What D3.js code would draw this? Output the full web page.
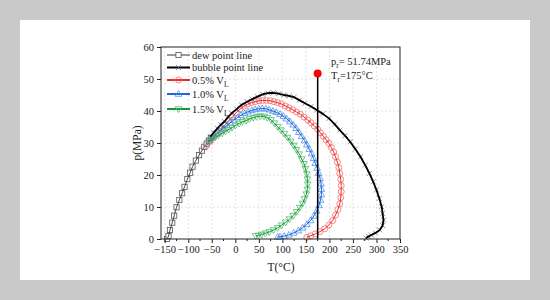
<!DOCTYPE html>
<html>
<head>
<meta charset="utf-8">
<script src="https://cdn.jsdelivr.net/npm/d3@7"></script>
<style>
  body { margin: 0; background: #c9c9c9; }
  svg { display: block; }
  text { font-family: "Liberation Serif", "Times New Roman", serif; fill: #222; }
</style>
</head>
<body>
<div id="chart"></div>
<script>
// dew point line (T in °C, p in MPa)
const dewT = [-145, -142, -139, -134, -130, -125, -119, -113, -108, -102, -96, -91, -84, -77, -71, -66, -61, -56, -52];
const dewP = [0, 0.9, 2.8, 5.1, 7.3, 9.9, 12.2, 14.3, 16.3, 18.7, 20.7, 22.6, 24.5, 26.2, 27.6, 28.8, 29.8, 30.8, 31.6];

// bubble point line
const bubbleT = [-53, -46, -38, -31, -23, -16, -8, 3, 13, 25, 36, 47, 58, 69, 81, 92, 103, 114, 125, 136, 148, 161, 173, 186, 199, 211, 222, 233, 244, 255, 266, 276, 285, 293, 300, 306, 311, 313, 315, 313, 307, 298, 289, 283, 278];
const bubbleP = [32, 33.3, 34.6, 35.7, 36.7, 38, 39.3, 40.6, 41.9, 42.9, 43.7, 44.5, 45.2, 45.6, 45.7, 45.4, 45, 44.7, 44.3, 43.4, 42.4, 41.4, 40.3, 39.1, 37.7, 35.9, 34, 32.3, 30.4, 28.1, 25.7, 23.1, 20.5, 17.9, 15.3, 12.7, 10.1, 8, 5.9, 4.2, 2.8, 1.9, 1.25, 0.8, 0.3];

// 0.5% VL
const v05T = [-61, -53, -45, -38, -30, -22, -14, -6, 2, 10, 18, 26, 34, 42, 50, 58, 66, 74, 82, 90, 98, 106, 114, 122, 130, 138, 146, 154, 161, 168, 175, 181, 187, 193, 199, 204, 209, 213, 217, 220, 222, 224, 225, 225, 224, 222, 218, 213, 207, 199, 190, 180, 170, 160, 152];
const v05P = [29.2, 30.5, 31.9, 33, 34.4, 35.6, 37, 38.2, 39.5, 40.6, 41.5, 42.1, 42.6, 42.9, 43.2, 43.3, 43.3, 43.2, 42.9, 42.6, 42.2, 41.6, 41, 40.4, 39.7, 39, 38.1, 37.2, 36.3, 35.3, 34.3, 33.2, 32.1, 31, 29.9, 28.6, 27.2, 25.7, 24, 22.3, 20.5, 18.6, 16.7, 14.8, 12.9, 11, 9.2, 7.5, 5.8, 4.4, 3.2, 2.3, 1.6, 1, 0.5];

// 1.0% VL
const v10T = [-55, -48, -40, -33, -26, -18, -11, -3, 5, 12, 20, 27, 35, 42, 50, 57, 65, 72, 80, 87, 95, 102, 109, 116, 123, 129, 135, 141, 147, 152, 157, 162, 166, 170, 174, 177, 180, 182, 183, 183, 181, 178, 173, 167, 160, 152, 143, 134, 124, 114, 104, 95, 90];
const v10P = [31, 31.9, 32.8, 33.7, 34.6, 35.5, 36.3, 37.2, 38, 38.7, 39.3, 39.8, 40.2, 40.5, 40.7, 40.8, 40.7, 40.4, 40, 39.6, 39, 38.4, 37.6, 36.7, 35.7, 34.6, 33.4, 32.1, 30.8, 29.5, 28.1, 26.7, 25.2, 23.7, 22.2, 20.6, 19, 17.3, 15.6, 13.9, 12.2, 10.5, 8.8, 7.2, 5.8, 4.6, 3.5, 2.6, 1.9, 1.3, 0.9, 0.7, 0.6];

// 1.5% VL
const v15T = [-57, -50, -43, -36, -28, -21, -14, -7, 0, 8, 15, 23, 30, 38, 45, 53, 61, 68, 76, 83, 90, 97, 104, 111, 118, 124, 130, 136, 141, 146, 149, 152, 153, 154, 153, 151, 147, 143, 137, 130, 123, 115, 107, 98, 90, 81, 72, 64, 56, 49, 43];
const v15P = [30.4, 31.1, 31.8, 32.4, 33, 33.6, 34.2, 34.8, 35.5, 36.1, 36.6, 37, 37.5, 37.9, 38.2, 38.4, 38.3, 37.9, 37.2, 36.2, 35.1, 34, 32.9, 31.7, 30.5, 29.2, 27.9, 26.5, 25, 23.5, 21.9, 20.3, 18.7, 17.1, 15.5, 14, 12.5, 11.1, 9.8, 8.5, 7.3, 6.2, 5.2, 4.3, 3.5, 2.8, 2.2, 1.8, 1.4, 1.1, 1];

// reservoir point
const resT = 175;
const resP = 51.74;

const xTicks = [-150, -100, -50, 0, 50, 100, 150, 200, 250, 300, 350];
const xMinor = [-125, -75, -25, 25, 75, 125, 175, 225, 275, 325];
const yTicks = [0, 10, 20, 30, 40, 50, 60];

const W = 550;
const H = 300;
const plot = { l: 161, r: 400, t: 47, b: 239 };

const scaleX = d3.scaleLinear().domain([-158, 350]).range([plot.l, plot.r]);
const scaleY = d3.scaleLinear().domain([0, 60]).range([plot.b, plot.t]);

const zip = (ts, ps) => ts.map((t, i) => ({ t, p: ps[i] }));

const series = [
  { key: 'dew', data: zip(dewT, dewP), color: '#333', width: 0.9, marker: 'square', mColor: '#555' },
  { key: 'v05', data: zip(v05T, v05P), color: '#ee2a2a', width: 1, marker: 'circle', mColor: '#f46a6a' },
  { key: 'v10', data: zip(v10T, v10P), color: '#1f64d8', width: 1, marker: 'triangle', mColor: '#4c92ee' },
  { key: 'v15', data: zip(v15T, v15P), color: '#18963a', width: 1, marker: 'triangleDown', mColor: '#4fbd6b' },
  { key: 'bubble', data: zip(bubbleT, bubbleP), color: '#000', width: 1.8, marker: 'cross', mColor: '#666' }
];

const legendItems = [
  { s: 'dew', label: 'dew point line' },
  { s: 'bubble', label: 'bubble point line' },
  { s: 'v05', label: '0.5% V', sub: 'L' },
  { s: 'v10', label: '1.0% V', sub: 'L' },
  { s: 'v15', label: '1.5% V', sub: 'L' }
];

function drawMarker(g, type, x, y, color) {
  if (type === 'circle') {
    g.append('circle').attr('cx', x).attr('cy', y).attr('r', 3)
      .attr('fill', 'none').attr('stroke', color).attr('stroke-width', 0.8);
  } else if (type === 'square') {
    g.append('rect').attr('x', x - 2.6).attr('y', y - 2.6).attr('width', 5.2).attr('height', 5.2)
      .attr('fill', '#fff').attr('stroke', color).attr('stroke-width', 0.8);
  } else if (type === 'triangle') {
    g.append('path').attr('d', `M${x},${y - 3.5}L${x + 3.3},${y + 2.3}L${x - 3.3},${y + 2.3}Z`)
      .attr('fill', 'none').attr('stroke', color).attr('stroke-width', 0.8);
  } else if (type === 'triangleDown') {
    g.append('path').attr('d', `M${x},${y + 3.5}L${x + 3.3},${y - 2.3}L${x - 3.3},${y - 2.3}Z`)
      .attr('fill', 'none').attr('stroke', color).attr('stroke-width', 0.8);
  } else if (type === 'cross') {
    g.append('path').attr('d', `M${x - 2.5},${y - 2.5}L${x + 2.5},${y + 2.5}M${x - 2.5},${y + 2.5}L${x + 2.5},${y - 2.5}`)
      .attr('stroke', color).attr('stroke-width', 0.7);
  }
}

const svg = d3.select('#chart').append('svg')
  .attr('width', W)
  .attr('height', H);

svg.append('rect').attr('width', W).attr('height', H).attr('fill', '#c9c9c9');
svg.append('rect').attr('x', 20).attr('y', 20).attr('width', 510).attr('height', 260).attr('fill', '#fff');

// grid
const grid = svg.append('g').attr('class', 'grid');
grid.selectAll('.gx')
  .data(xTicks.slice(0, -1))
  .enter().append('line')
  .attr('x1', d => scaleX(d)).attr('x2', d => scaleX(d))
  .attr('y1', plot.t).attr('y2', plot.b)
  .attr('stroke', '#e2e2e2').attr('stroke-dasharray', '2,2');
grid.selectAll('.gy')
  .data(yTicks.slice(1, -1))
  .enter().append('line')
  .attr('x1', plot.l).attr('x2', plot.r)
  .attr('y1', d => scaleY(d)).attr('y2', d => scaleY(d))
  .attr('stroke', '#e2e2e2').attr('stroke-dasharray', '2,2');

// curves
const line = d3.line().x(d => scaleX(d.t)).y(d => scaleY(d.p));
const curves = svg.append('g').attr('class', 'curves');

series.forEach(s => {
  const g = curves.append('g').attr('class', s.key);
  s.data.forEach(d => drawMarker(g, s.marker, scaleX(d.t), scaleY(d.p), s.mColor));
  g.append('path')
    .datum(s.data)
    .attr('d', line)
    .attr('fill', 'none')
    .attr('stroke', s.color)
    .attr('stroke-width', s.width)
    .attr('stroke-linejoin', 'round');
});

// reservoir condition
svg.append('line')
  .attr('x1', scaleX(resT)).attr('x2', scaleX(resT))
  .attr('y1', scaleY(resP)).attr('y2', scaleY(0))
  .attr('stroke', '#000').attr('stroke-width', 1.5);
svg.append('circle')
  .attr('cx', scaleX(resT)).attr('cy', scaleY(resP)).attr('r', 4)
  .attr('fill', '#ff0000');

// frame
svg.append('rect')
  .attr('x', plot.l).attr('y', plot.t)
  .attr('width', plot.r - plot.l).attr('height', plot.b - plot.t)
  .attr('fill', 'none').attr('stroke', '#222').attr('stroke-width', 1);

// axes
const xAxis = d3.axisBottom(scaleX).tickValues(xTicks).tickSize(4).tickPadding(3);
const yAxis = d3.axisLeft(scaleY).tickValues(yTicks).tickSize(4).tickPadding(3);

svg.append('g')
  .attr('class', 'axis axis--x')
  .attr('transform', `translate(0, ${plot.b})`)
  .call(xAxis);

svg.append('g')
  .attr('class', 'axis axis--y')
  .attr('transform', `translate(${plot.l}, 0)`)
  .call(yAxis);

svg.selectAll('.axis .domain').remove();
svg.selectAll('.axis line').attr('stroke', '#222');
svg.selectAll('.axis text')
  .style('font-family', '"Liberation Serif", serif')
  .style('font-size', '10.5px')
  .attr('fill', '#222');

// minor ticks on x
svg.append('g').selectAll('line')
  .data(xMinor)
  .enter().append('line')
  .attr('x1', d => scaleX(d)).attr('x2', d => scaleX(d))
  .attr('y1', plot.b).attr('y2', plot.b + 2)
  .attr('stroke', '#222');

// axis titles
svg.append('text')
  .attr('x', 281).attr('y', 271)
  .attr('text-anchor', 'middle')
  .style('font-size', '11.5px')
  .text('T(°C)');

svg.append('text')
  .attr('transform', `translate(141, ${(plot.t + plot.b) / 2}) rotate(-90)`)
  .attr('text-anchor', 'middle')
  .style('font-size', '11.5px')
  .text('p(MPa)');

// legend
const legend = svg.append('g').attr('class', 'legend');
const legendY = [55, 67.5, 80, 94, 109];
legendItems.forEach((item, i) => {
  const s = series.find(d => d.key === item.s);
  const y = legendY[i];
  legend.append('line')
    .attr('x1', 167).attr('x2', 190).attr('y1', y).attr('y2', y)
    .attr('stroke', s.color).attr('stroke-width', s.width < 1 ? 1 : 2);
  drawMarker(legend, s.marker, 178.5, y, s.mColor);
  const t = legend.append('text')
    .attr('x', 192).attr('y', y + 3.5)
    .style('font-size', '10.5px')
    .text(item.label);
  if (item.sub) {
    t.append('tspan').attr('dy', 3).style('font-size', '7.5px').text(item.sub);
  }
});

// annotation
const ann = svg.append('g').attr('class', 'annotation');
const a1 = ann.append('text').attr('x', 331).attr('y', 65).style('font-size', '10.5px');
a1.append('tspan').text('p');
a1.append('tspan').attr('dy', 3).style('font-size', '7.5px').text('r');
a1.append('tspan').attr('dy', -3).text('= 51.74MPa');
const a2 = ann.append('text').attr('x', 331).attr('y', 79).style('font-size', '10.5px');
a2.append('tspan').text('T');
a2.append('tspan').attr('dy', 3).style('font-size', '7.5px').text('r');
a2.append('tspan').attr('dy', -3).text('=175°C');
</script>
</body>
</html>
